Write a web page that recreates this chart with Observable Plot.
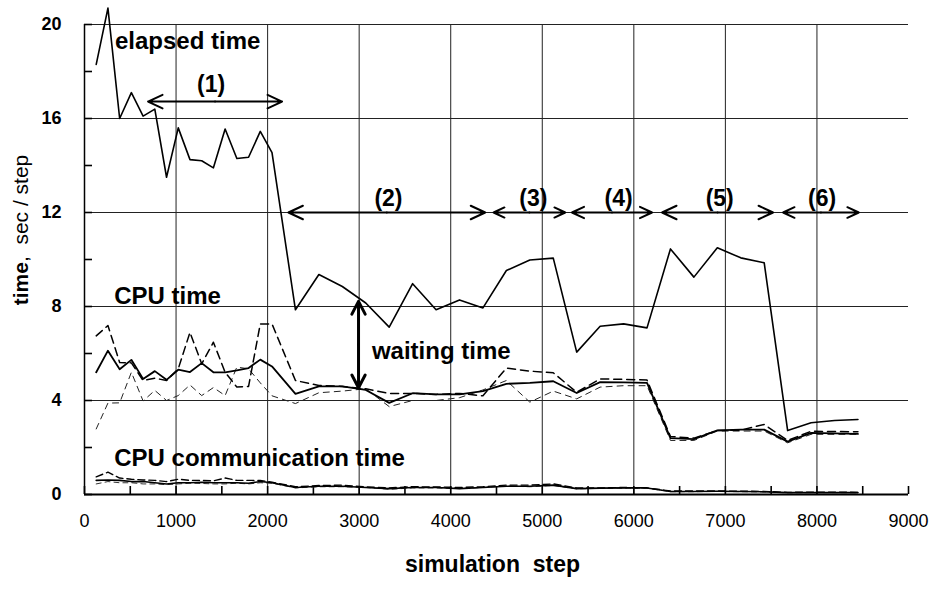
<!DOCTYPE html>
<html>
<head>
<meta charset="utf-8">
<script src="https://cdn.jsdelivr.net/npm/d3@7"></script>
<script src="https://cdn.jsdelivr.net/npm/@observablehq/plot@0.6"></script>
<style>
  html, body { margin: 0; padding: 0; background: #fff; }
  #chart svg { display: block; }
</style>
</head>
<body>
<div id="chart"></div>
<script>
// ---- data ----
const steps = [128,256,384,512,640,768,896,1024,1152,1280,1408,1536,1664,1792,1920,2048,
  2304,2560,2816,3072,3328,3584,3840,4096,4352,4608,4864,5120,5376,5632,5888,6144,
  6400,6656,6912,7168,7424,7680,7936,8192,8448];
const elapsed = [18.3,20.7,16.0,17.1,16.1,16.4,13.5,15.6,14.25,14.2,13.9,15.55,14.3,14.35,15.45,14.55,
  7.86,9.36,8.85,8.15,7.12,8.97,7.86,8.28,7.94,9.53,9.98,10.06,6.06,7.16,7.26,7.09,
  10.45,9.25,10.5,10.07,9.86,2.72,3.05,3.15,3.19];
const cpuSolid = [5.2,6.12,5.33,5.73,4.92,5.25,4.88,5.31,5.21,5.59,5.2,5.2,5.28,5.38,5.74,5.45,
  4.28,4.6,4.6,4.45,3.9,4.31,4.26,4.26,4.4,4.71,4.75,4.82,4.32,4.78,4.77,4.75,
  2.4,2.36,2.73,2.76,2.76,2.25,2.62,2.6,2.58];
const cpuDash = [6.75,7.19,5.62,5.6,4.85,4.95,4.85,5.35,6.9,5.56,6.48,5.2,4.57,4.6,7.26,7.26,
  4.85,4.64,4.6,4.5,4.3,4.3,4.26,4.3,4.2,5.38,5.25,5.18,4.35,4.92,4.9,4.87,
  2.47,2.4,2.72,2.74,2.98,2.3,2.69,2.68,2.67];
const cpuThin = [2.79,3.89,3.9,5.2,3.98,4.43,4.0,4.21,4.66,4.21,4.55,4.21,5.42,5.35,4.75,4.2,
  3.87,4.33,4.4,4.5,3.74,4.0,4.0,4.12,4.45,4.85,3.93,4.4,4.07,4.57,4.63,4.63,
  2.3,2.3,2.7,2.7,2.7,2.2,2.56,2.56,2.56];
const commSolid = [0.6,0.62,0.6,0.55,0.55,0.5,0.45,0.5,0.5,0.52,0.5,0.5,0.5,0.48,0.55,0.5,
  0.3,0.35,0.35,0.3,0.25,0.3,0.3,0.25,0.3,0.35,0.35,0.4,0.25,0.27,0.28,0.28,
  0.13,0.13,0.14,0.13,0.12,0.08,0.08,0.08,0.08];
const commDash = [0.75,0.95,0.7,0.65,0.62,0.6,0.55,0.65,0.6,0.6,0.58,0.7,0.6,0.6,0.6,0.52,
  0.33,0.38,0.4,0.32,0.28,0.33,0.32,0.3,0.33,0.4,0.4,0.45,0.28,0.28,0.3,0.28,
  0.15,0.15,0.15,0.14,0.13,0.09,0.1,0.1,0.09];
const commThin = [0.45,0.55,0.5,0.5,0.45,0.45,0.42,0.45,0.48,0.47,0.45,0.45,0.48,0.45,0.5,0.48,
  0.28,0.33,0.33,0.3,0.22,0.28,0.28,0.25,0.3,0.36,0.33,0.38,0.24,0.26,0.27,0.27,
  0.12,0.12,0.13,0.12,0.11,0.07,0.08,0.08,0.07];

const xTicks = [0,1000,2000,3000,4000,5000,6000,7000,8000,9000];
const xMinor = d3.range(0, 9001, 500);
const yTicks = [0,4,8,12,16,20];
const yMinor = d3.range(0, 21, 2);
const xGrid = [1000,2000,3000,4000,5000,6000,7000,8000];
const yGrid = [4,8,12,16,20];

const phaseLabels = ["(1)","(2)","(3)","(4)","(5)","(6)"];
const phaseStart = [694,2227,4468,5324,6308,7630];
const phaseEnd   = [2158,4377,5251,6199,7521,8457];
const phaseY     = [16.72,12,12,12,12,12];
const phaseLabelX = [1383,3320,4902,5834,6938,8057];
const phaseLabelY = [17.45,12.6,12.6,12.6,12.6,12.6];

const seriesLabels = ["elapsed time","CPU time","CPU communication time","waiting time"];
const seriesLabelX = [333,325,325,3139];
const seriesLabelY = [19.3,8.45,1.55,6.1];

const waitX = 2993, waitTop = 8.22, waitBottom = 4.54;

// ---- derived tables ----
const toRows = vals => steps.map((s, i) => ({step: s, value: vals[i]}));
const phases = phaseLabels.map((t, i) => ({
  label: t, x1: phaseStart[i], x2: phaseEnd[i], mid: (phaseStart[i] + phaseEnd[i]) / 2,
  y: phaseY[i], lx: phaseLabelX[i], ly: phaseLabelY[i]
}));
const labels = seriesLabels.map((t, i) => ({text: t, x: seriesLabelX[i], y: seriesLabelY[i]}));
const waitMid = (waitTop + waitBottom) / 2;

const font = "Liberation Sans, Arial, Helvetica, sans-serif";
const W = 932, H = 589, ML = 84, MR = 24, MT = 24, MB = 95;
const tickLen = 8;

const chart = Plot.plot({
  width: W,
  height: H,
  marginLeft: ML,
  marginRight: MR,
  marginTop: MT,
  marginBottom: MB,
  style: {fontFamily: font, background: "#fff", color: "#000", overflow: "visible"},
  x: {domain: [0, 9000]},
  y: {domain: [0, 20]},
  marks: [
    Plot.gridX({ticks: xGrid, stroke: "#222", strokeOpacity: 1, strokeWidth: 1}),
    Plot.gridY({ticks: yGrid, stroke: "#222", strokeOpacity: 1, strokeWidth: 1}),
    // minor inward ticks
    Plot.tickX(xMinor, {x: d => d, stroke: "#000", strokeWidth: 1.6, insetTop: (H - MT - MB) - tickLen}),
    Plot.tickY(yMinor, {y: d => d, stroke: "#000", strokeWidth: 1.6, insetRight: (W - ML - MR) - tickLen}),
    Plot.ruleY([0], {stroke: "#000", strokeWidth: 2}),
    Plot.ruleX([0], {stroke: "#000", strokeWidth: 1.5}),
    Plot.axisX({ticks: xTicks, tickSize: 0, tickPadding: 20, fontSize: 18, label: null, tickFormat: d => String(d)}),
    Plot.axisY({ticks: yTicks, tickSize: 0, tickPadding: 23, fontSize: 18, fontWeight: "bold", label: null, tickFormat: d => String(d)}),

    // communication time
    Plot.line(toRows(commThin), {x: "step", y: "value", stroke: "#333", strokeWidth: 1, strokeDasharray: "5,4"}),
    Plot.line(toRows(commDash), {x: "step", y: "value", stroke: "#000", strokeWidth: 1.4, strokeDasharray: "7,4"}),
    Plot.line(toRows(commSolid), {x: "step", y: "value", stroke: "#000", strokeWidth: 1.6}),
    // CPU time
    Plot.line(toRows(cpuThin), {x: "step", y: "value", stroke: "#222", strokeWidth: 1, strokeDasharray: "6,5"}),
    Plot.line(toRows(cpuDash), {x: "step", y: "value", stroke: "#000", strokeWidth: 1.5, strokeDasharray: "8,5"}),
    Plot.line(toRows(cpuSolid), {x: "step", y: "value", stroke: "#000", strokeWidth: 1.8}),
    // elapsed time
    Plot.line(toRows(elapsed), {x: "step", y: "value", stroke: "#000", strokeWidth: 1.6}),

    // phase arrows (double headed)
    Plot.arrow(phases, {x1: "mid", x2: "x1", y1: "y", y2: "y", stroke: "#000", strokeWidth: 2, headLength: 12, headAngle: 50}),
    Plot.arrow(phases, {x1: "mid", x2: "x2", y1: "y", y2: "y", stroke: "#000", strokeWidth: 2, headLength: 12, headAngle: 50}),
    Plot.text(phases, {x: "lx", y: "ly", text: "label", fontSize: 23, fontWeight: "bold", fill: "#000"}),

    // waiting time arrow
    Plot.arrow([{x: waitX, y1: waitMid, y2: waitTop}, {x: waitX, y1: waitMid, y2: waitBottom}],
      {x1: "x", x2: "x", y1: "y1", y2: "y2", stroke: "#000", strokeWidth: 3, headLength: 12, headAngle: 55}),

    // series labels
    Plot.text(labels, {x: "x", y: "y", text: "text", textAnchor: "start", fontSize: 24, fontWeight: "bold", fill: "#000"}),

    // x axis title
    Plot.text(["simulation  step"], {frameAnchor: "bottom", dy: 77, dx: -4, text: d => d, fontSize: 23, fontWeight: "bold", fill: "#000"})
  ]
});

document.getElementById("chart").appendChild(chart);

// y axis title with mixed weights
const svg = d3.select(chart);
const yt = svg.append("text")
  .attr("transform", "translate(22,230) rotate(-90)")
  .attr("text-anchor", "middle")
  .attr("dominant-baseline", "middle")
  .attr("font-family", font)
  .attr("font-size", 21)
  .attr("fill", "#000");
yt.append("tspan").attr("font-weight", "bold").text("time");
yt.append("tspan").attr("font-weight", "normal").text(",  sec / step");
</script>
</body>
</html>
